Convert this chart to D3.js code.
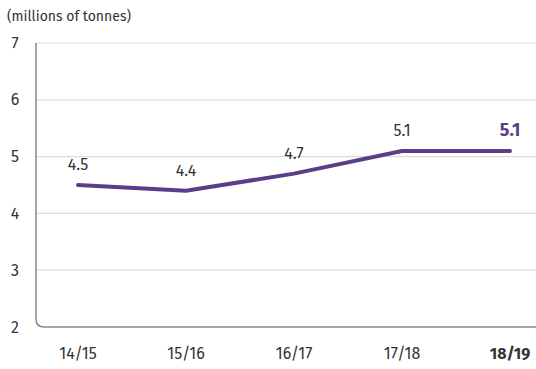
<!DOCTYPE html>
<html>
<head>
<meta charset="utf-8">
<script src="https://cdn.jsdelivr.net/npm/d3@7"></script>
<style>
  html, body { margin: 0; padding: 0; background: #fff; }
  svg { display: block; font-family: "Fira Sans", Lato, "Open Sans", sans-serif; }
</style>
</head>
<body>
<svg id="chart" width="536" height="369"></svg>
<script>
// Annual volume, millions of tonnes
const years = ["14/15", "15/16", "16/17", "17/18", "18/19"];
const volumes = [4.5, 4.4, 4.7, 5.1, 5.1];
const yTicks = [2, 3, 4, 5, 6, 7];
const unitLabel = "(millions of tonnes)";

const svg = d3.select("#chart");
const plotLeft = 36, plotRight = 536, plotTop = 43, plotBottom = 327;
const purple = "#5b3e8a";
const textColor = "#333";

const x = d3.scalePoint().domain(years).range([78, 510]);
const y = d3.scaleLinear().domain([2, 7]).range([plotBottom, plotTop]);

// horizontal gridlines
svg.append("g")
  .selectAll("line")
  .data(yTicks.filter(t => t > 2))
  .join("line")
  .attr("x1", plotLeft).attr("x2", plotRight)
  .attr("y1", d => y(d)).attr("y2", d => y(d))
  .attr("stroke", "#dcdcdc").attr("stroke-width", 1.2);

// left and bottom axis frame with rounded corner
const r = 8;
svg.append("path")
  .attr("d", `M${plotLeft},${plotTop} V${plotBottom - r} Q${plotLeft},${plotBottom} ${plotLeft + r},${plotBottom} H${plotRight}`)
  .attr("fill", "none").attr("stroke", "#8a8a8a").attr("stroke-width", 1.5);

// y tick labels
svg.append("g")
  .selectAll("text")
  .data(yTicks)
  .join("text")
  .attr("x", 15).attr("y", d => y(d) + 5.5)
  .attr("text-anchor", "middle")
  .attr("font-size", 16).attr("fill", textColor)
  .text(d => d);

// x category labels
svg.append("g")
  .selectAll("text")
  .data(years)
  .join("text")
  .attr("x", d => x(d)).attr("y", 359)
  .attr("text-anchor", "middle")
  .attr("font-size", 16)
  .attr("font-weight", (d, i) => i === years.length - 1 ? "bold" : "normal")
  .attr("fill", textColor)
  .text(d => d);

// unit label
svg.append("text")
  .attr("x", 7).attr("y", 21)
  .attr("font-size", 14).attr("fill", textColor)
  .text(unitLabel);

// data line
const data = years.map((yr, i) => ({ yr, v: volumes[i] }));
svg.append("path")
  .datum(data)
  .attr("d", d3.line().x(d => x(d.yr)).y(d => y(d.v)))
  .attr("fill", "none").attr("stroke", purple)
  .attr("stroke-width", 4).attr("stroke-linecap", "round").attr("stroke-linejoin", "round");

// value labels
svg.append("g")
  .selectAll("text")
  .data(data)
  .join("text")
  .attr("x", d => x(d.yr))
  .attr("y", d => y(d.v) - 15)
  .attr("text-anchor", "middle")
  .attr("font-size", (d, i) => i === data.length - 1 ? 18 : 16)
  .attr("font-weight", (d, i) => i === data.length - 1 ? "bold" : "normal")
  .attr("fill", (d, i) => i === data.length - 1 ? purple : textColor)
  .text(d => d.v.toFixed(1));
</script>
</body>
</html>
